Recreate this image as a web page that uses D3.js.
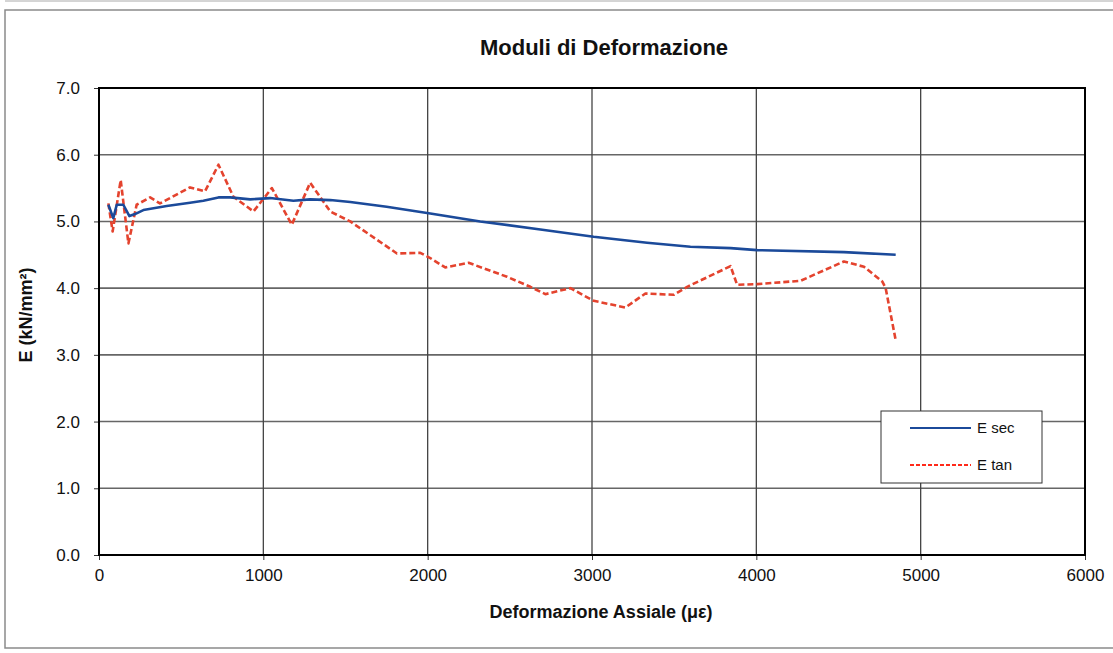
<!DOCTYPE html>
<html>
<head>
<meta charset="utf-8">
<script src="https://cdn.jsdelivr.net/npm/d3@7"></script>
<style>
  html, body { margin: 0; padding: 0; background: #fff; }
  svg { display: block; font-family: "Liberation Sans", Arial, sans-serif; }
</style>
</head>
<body>
<svg id="chart" width="1113" height="653"></svg>
<script>
// ---- data ----
const title = "Moduli di Deformazione";
const xLabel = "Deformazione Assiale (\u03BC\u03B5)";
const yLabel = "E (kN/mm\u00B2)";
const seriesNames = ["E sec", "E tan"];
const xTicks = [0, 1000, 2000, 3000, 4000, 5000, 6000];
const yTicks = [0, 1, 2, 3, 4, 5, 6, 7];

const xSec = [57, 87, 108, 148, 185, 219, 270, 412, 554, 635, 727, 798, 920, 1041, 1183, 1285, 1407, 1529, 1750, 2016, 2320, 2686, 3010, 3335, 3599, 3843, 4005, 4533, 4848];
const ySec = [5.25, 5.05, 5.25, 5.25, 5.08, 5.11, 5.17, 5.23, 5.28, 5.31, 5.36, 5.36, 5.33, 5.35, 5.31, 5.33, 5.32, 5.29, 5.22, 5.12, 5.0, 4.88, 4.77, 4.68, 4.62, 4.6, 4.57, 4.54, 4.5];

const xTan = [57, 83, 132, 179, 229, 311, 371, 554, 645, 727, 818, 940, 1052, 1173, 1285, 1407, 1529, 1813, 1955, 2016, 2107, 2249, 2483, 2625, 2716, 2869, 3010, 3203, 3325, 3498, 3579, 3843, 3883, 4005, 4269, 4533, 4655, 4766, 4787, 4848];
const yTan = [5.27, 4.85, 5.62, 4.67, 5.25, 5.36, 5.27, 5.51, 5.45, 5.85, 5.37, 5.15, 5.5, 4.95, 5.58, 5.15, 5.0, 4.52, 4.53, 4.45, 4.31, 4.38, 4.17, 4.02, 3.91, 4.0, 3.81, 3.71, 3.92, 3.90, 4.02, 4.33, 4.05, 4.06, 4.11, 4.40, 4.32, 4.10, 4.0, 3.22];

// ---- layout ----
const svg = d3.select("#chart");
const W = 1113, H = 653;
const plot = { left: 99, right: 1085, top: 88, bottom: 555 };

const x = d3.scaleLinear().domain([0, 6000]).range([plot.left, plot.right]);
const y = d3.scaleLinear().domain([0, 7]).range([plot.bottom, plot.top]);

// outer frame
svg.append("rect").attr("x", 5).attr("y", 10).attr("width", W + 10).attr("height", 638)
  .attr("fill", "none").attr("stroke", "#8a8a8a").attr("stroke-width", 1.5);
svg.append("line").attr("x1", 5).attr("x2", W).attr("y1", 1).attr("y2", 1)
  .attr("stroke", "#aaa").attr("stroke-width", 1);

// gridlines
svg.append("g").selectAll("line.h").data(yTicks.filter(d => d > 0 && d < 7)).join("line")
  .attr("x1", plot.left).attr("x2", plot.right)
  .attr("y1", d => y(d)).attr("y2", d => y(d))
  .attr("stroke", "#666").attr("stroke-width", 1.6);
svg.append("g").selectAll("line.v").data(xTicks.filter(d => d > 0 && d < 6000)).join("line")
  .attr("y1", plot.top).attr("y2", plot.bottom)
  .attr("x1", d => x(d)).attr("x2", d => x(d))
  .attr("stroke", "#444").attr("stroke-width", 1.3);

// axes
const xAxis = svg.append("g").attr("transform", `translate(0,${plot.bottom})`)
  .call(d3.axisBottom(x).tickValues(xTicks).tickSize(5).tickPadding(9).tickFormat(d3.format("d")));
const yAxis = svg.append("g").attr("transform", `translate(${plot.left},0)`)
  .call(d3.axisLeft(y).tickValues(yTicks).tickSize(5).tickPadding(14).tickFormat(d3.format(".1f")));
[xAxis, yAxis].forEach(g => {
  g.select(".domain").remove();
  g.selectAll(".tick line").attr("stroke", "#333").attr("stroke-width", 1);
  g.selectAll(".tick text").attr("fill", "#111").style("font-size", "17px")
    .style("font-family", "'Liberation Sans', Arial, sans-serif");
});

// plot border
svg.append("rect").attr("x", plot.left).attr("y", plot.top)
  .attr("width", plot.right - plot.left).attr("height", plot.bottom - plot.top)
  .attr("fill", "none").attr("stroke", "#000").attr("stroke-width", 2);

// lines
const secData = xSec.map((v, i) => [v, ySec[i]]);
const tanData = xTan.map((v, i) => [v, yTan[i]]);
const line = d3.line().x(d => x(d[0])).y(d => y(d[1]));

svg.append("path").datum(tanData).attr("d", line)
  .attr("fill", "none").attr("stroke", "#e4432e").attr("stroke-width", 2.6)
  .attr("stroke-dasharray", "6,3").attr("stroke-linejoin", "round");
svg.append("path").datum(secData).attr("d", line)
  .attr("fill", "none").attr("stroke", "#1b4a9a").attr("stroke-width", 2.6)
  .attr("stroke-linejoin", "round");

// title & labels
svg.append("text").attr("x", 604).attr("y", 55).attr("text-anchor", "middle")
  .style("font-size", "22px").style("font-weight", "bold").attr("fill", "#111").text(title);
svg.append("text").attr("x", 601).attr("y", 618).attr("text-anchor", "middle")
  .style("font-size", "18px").style("font-weight", "bold").attr("fill", "#111").text(xLabel);
svg.append("text").attr("transform", "translate(32,315) rotate(-90)").attr("text-anchor", "middle")
  .style("font-size", "18px").style("font-weight", "bold").attr("fill", "#111").text(yLabel);

// legend
const lg = svg.append("g");
lg.append("rect").attr("x", 881).attr("y", 411).attr("width", 161).attr("height", 72)
  .attr("fill", "#fff").attr("stroke", "#333").attr("stroke-width", 1);
const legendItems = [
  { name: seriesNames[0], color: "#1b4a9a", dash: null, yy: 428 },
  { name: seriesNames[1], color: "#ff2a1a", dash: "4,2", yy: 465 }
];
legendItems.forEach(it => {
  lg.append("line").attr("x1", 910).attr("x2", 971).attr("y1", it.yy).attr("y2", it.yy)
    .attr("stroke", it.color).attr("stroke-width", it.dash ? 1.8 : 2.2)
    .attr("stroke-dasharray", it.dash);
  lg.append("text").attr("x", 977).attr("y", it.yy + 5)
    .style("font-size", "15px").attr("fill", "#111").text(it.name);
});
</script>
</body>
</html>
